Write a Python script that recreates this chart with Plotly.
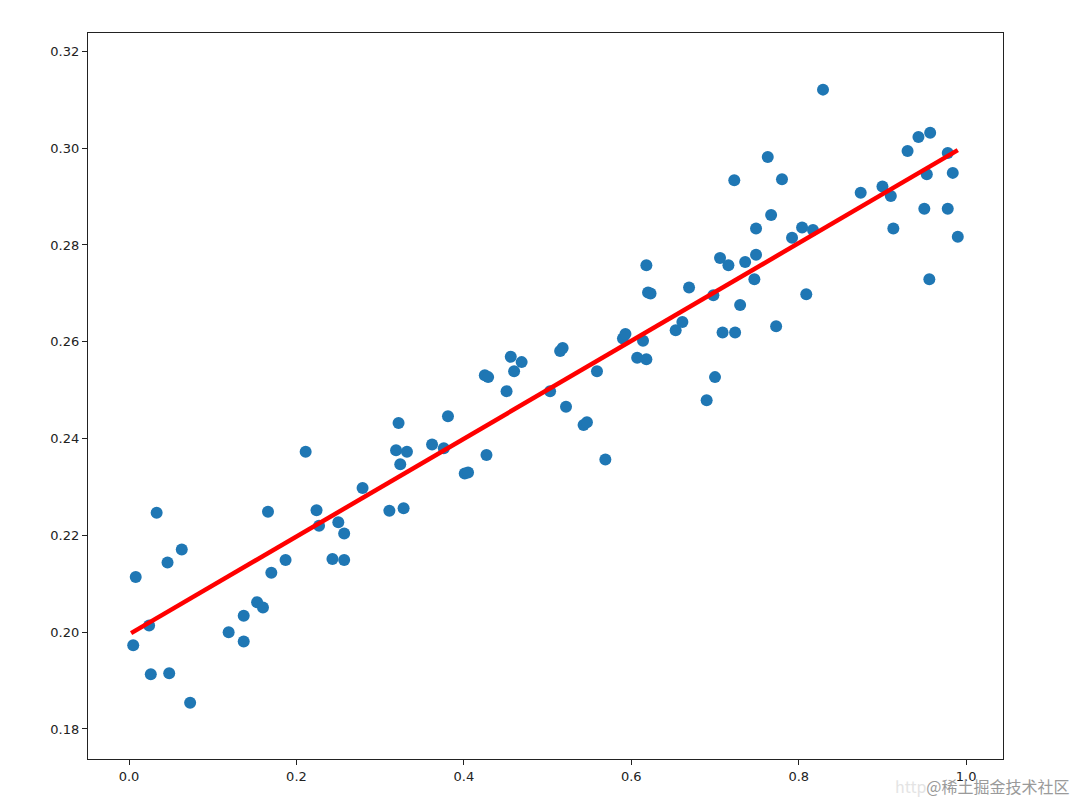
import plotly.graph_objects as go

# scatter data
x_pts = [0.005, 0.008, 0.024, 0.026, 0.033, 0.046, 0.048, 0.063, 0.073, 0.119,
         0.137, 0.137, 0.153, 0.160, 0.166, 0.170, 0.187, 0.211, 0.224, 0.227,
         0.243, 0.250, 0.257, 0.257, 0.279, 0.311, 0.328, 0.322, 0.319, 0.332,
         0.324, 0.362, 0.376, 0.381, 0.401, 0.405, 0.427, 0.425, 0.429, 0.456,
         0.469, 0.460, 0.451, 0.503, 0.515, 0.518, 0.522, 0.543, 0.547, 0.559,
         0.569, 0.590, 0.593, 0.607, 0.618, 0.614, 0.618, 0.620, 0.623, 0.653,
         0.661, 0.669, 0.690, 0.700, 0.698, 0.706, 0.709, 0.716, 0.724, 0.723,
         0.730, 0.736, 0.747, 0.749, 0.749, 0.763, 0.767, 0.773, 0.780, 0.792,
         0.804, 0.809, 0.817, 0.829, 0.874, 0.900, 0.910, 0.913, 0.930, 0.943,
         0.957, 0.953, 0.950, 0.956, 0.978, 0.984, 0.978, 0.990]
y_pts = [0.1973, 0.2114, 0.2014, 0.1913, 0.2247, 0.2144, 0.1915, 0.2171, 0.1854, 0.2000,
         0.2034, 0.1981, 0.2062, 0.2051, 0.2249, 0.2123, 0.2149, 0.2373, 0.2252, 0.2220,
         0.2151, 0.2227, 0.2204, 0.2149, 0.2298, 0.2251, 0.2256, 0.2432, 0.2376, 0.2373,
         0.2347, 0.2388, 0.2380, 0.2446, 0.2328, 0.2330, 0.2366, 0.2531, 0.2527, 0.2569,
         0.2558, 0.2539, 0.2498, 0.2498, 0.2581, 0.2587, 0.2466, 0.2428, 0.2434, 0.2539,
         0.2357, 0.2607, 0.2616, 0.2567, 0.2564, 0.2602, 0.2758, 0.2702, 0.2700, 0.2624,
         0.2641, 0.2712, 0.2479, 0.2527, 0.2696, 0.2773, 0.2619, 0.2758, 0.2619, 0.2934,
         0.2676, 0.2765, 0.2729, 0.2780, 0.2834, 0.2982, 0.2862, 0.2632, 0.2936, 0.2815,
         0.2836, 0.2698, 0.2831, 0.3121, 0.2908, 0.2921, 0.2901, 0.2834, 0.2994, 0.3023,
         0.3032, 0.2946, 0.2875, 0.2729, 0.2990, 0.2949, 0.2875, 0.2817]

# fitted line ends
line_x = [0.0025, 0.990]
line_y = [0.1998, 0.2996]

x_ticks = [0.0, 0.2, 0.4, 0.6, 0.8, 1.0]
y_ticks = [0.18, 0.20, 0.22, 0.24, 0.26, 0.28, 0.30, 0.32]

fig = go.Figure()
fig.add_trace(go.Scatter(x=x_pts, y=y_pts, mode="markers",
                         marker=dict(size=12, color="#1f77b4", line=dict(width=0))))
fig.add_trace(go.Scatter(x=line_x, y=line_y, mode="lines",
                         line=dict(color="#ff0000", width=4.5)))

axis_style = dict(showgrid=False, zeroline=False, showline=True, linecolor="#222",
                  linewidth=1.2, mirror=True, ticks="outside", ticklen=5,
                  tickcolor="#222", tickfont=dict(family="DejaVu Sans", size=13, color="#222"))

fig.update_xaxes(range=[-0.049, 1.044], tickvals=x_ticks,
                 ticktext=[f"{v:.1f}" for v in x_ticks], **axis_style)
fig.update_yaxes(range=[0.1738, 0.3238], tickvals=y_ticks,
                 ticktext=[f"{v:.2f}" for v in y_ticks], **axis_style)

# watermark bottom right
fig.add_annotation(xref="paper", yref="paper", x=1.0754, y=-0.037, xanchor="right", yanchor="middle",
                   showarrow=False,
                   text="<span style='color:#e4e4e4'>http</span>@稀土掘金技术社区",
                   font=dict(family="Noto Sans CJK SC", size=16, color="#9a9a9a"))

# page body has an 8px margin, so the figure is sized to the visible area
fig.update_layout(width=1072, height=795, showlegend=False,
                  plot_bgcolor="white", paper_bgcolor="white",
                  margin=dict(l=80, r=77, t=25, b=44, autoexpand=False))

fig.write_html("out.html")
